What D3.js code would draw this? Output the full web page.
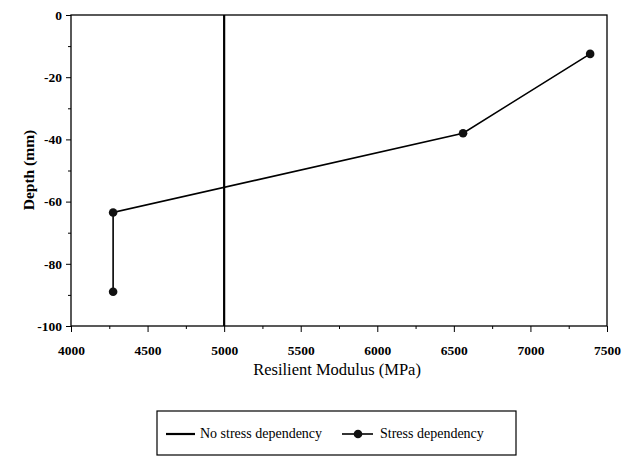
<!DOCTYPE html>
<html><head><meta charset="utf-8">
<script src="https://cdn.jsdelivr.net/npm/d3@7"></script>
<style>body{margin:0;background:#fff}svg{display:block}svg text{font-family:"Liberation Serif","DejaVu Serif",serif}</style>
</head><body><svg id="c" width="623" height="456"></svg>
<script>
const modulus = [7390, 6560, 4275, 4275];
const depth = [-12.5, -38, -63.5, -89];
const constModulus = 5000;
const xTicks = [4000, 4500, 5000, 5500, 6000, 6500, 7000, 7500];
const yTicks = [0, -20, -40, -60, -80, -100];
const seriesNames = ["No stress dependency", "Stress dependency"];

const svg = d3.select("#c");
const font = "Liberation Serif, DejaVu Serif, serif";
const L = 71, R = 607, T = 15, B = 326;
const x = d3.scaleLinear().domain([4000, 7500]).range([L, R]);
const y = d3.scaleLinear().domain([0, -100]).range([T, B]);

svg.append("rect").attr("x", L).attr("y", T).attr("width", R - L).attr("height", B - T)
  .attr("fill", "none").attr("stroke", "#000").attr("stroke-width", 1.3);

const ya = svg.append("g").attr("transform", `translate(${L},0)`)
  .call(d3.axisLeft(y).tickValues(yTicks).tickSize(5).tickPadding(4).tickFormat(d => String(d)));
ya.select(".domain").remove();
ya.selectAll("text").style("font-family", font).style("font-size", "13.5px").style("font-weight", "bold").attr("fill", "#000");
svg.append("g").attr("transform", `translate(${L},0)`)
  .call(d3.axisLeft(y).tickValues(d3.range(-10, -100, -20)).tickSize(3).tickFormat(""))
  .select(".domain").remove();

const xa = svg.append("g").attr("transform", `translate(0,${B})`)
  .call(d3.axisBottom(x).tickValues(xTicks).tickSize(6).tickPadding(13).tickFormat(d => String(d)));
xa.select(".domain").remove();
xa.selectAll("text").style("font-family", font).style("font-size", "13.5px").style("font-weight", "bold").attr("fill", "#000");
svg.append("g").attr("transform", `translate(0,${B})`)
  .call(d3.axisBottom(x).tickValues(d3.range(4250, 7500, 500)).tickSize(3).tickFormat(""))
  .select(".domain").remove();

svg.append("text").attr("x", 337).attr("y", 375).attr("text-anchor", "middle")
  .style("font-family", font).style("font-size", "16.5px").text("Resilient Modulus (MPa)");
svg.append("text").attr("transform", "translate(34,170) rotate(-90)").attr("text-anchor", "middle")
  .style("font-family", font).style("font-size", "15.5px").style("font-weight", "bold").text("Depth (mm)");

svg.append("line").attr("x1", x(constModulus)).attr("x2", x(constModulus))
  .attr("y1", y(0)).attr("y2", y(-100)).attr("stroke", "#000").attr("stroke-width", 2.2);

const pts = modulus.map((m, i) => [m, depth[i]]);
svg.append("path").datum(pts)
  .attr("d", d3.line().x(d => x(d[0])).y(d => y(d[1])))
  .attr("fill", "none").attr("stroke", "#000").attr("stroke-width", 1.6);
svg.selectAll("circle.pt").data(pts).enter().append("circle").attr("class", "pt")
  .attr("cx", d => x(d[0])).attr("cy", d => y(d[1])).attr("r", 4.3).attr("fill", "#111");

const lg = svg.append("g");
lg.append("rect").attr("x", 157).attr("y", 411).attr("width", 359).attr("height", 44)
  .attr("fill", "none").attr("stroke", "#000").attr("stroke-width", 1.2);
lg.append("line").attr("x1", 166).attr("x2", 195).attr("y1", 434).attr("y2", 434)
  .attr("stroke", "#000").attr("stroke-width", 2.2);
lg.append("text").attr("x", 200).attr("y", 438).style("font-family", font).style("font-size", "14px").text(seriesNames[0]);
lg.append("line").attr("x1", 342).attr("x2", 373).attr("y1", 434).attr("y2", 434)
  .attr("stroke", "#000").attr("stroke-width", 1.6);
lg.append("circle").attr("cx", 358).attr("cy", 434).attr("r", 4.3).attr("fill", "#111");
lg.append("text").attr("x", 380).attr("y", 438).style("font-family", font).style("font-size", "14px").text(seriesNames[1]);
</script></body></html>
